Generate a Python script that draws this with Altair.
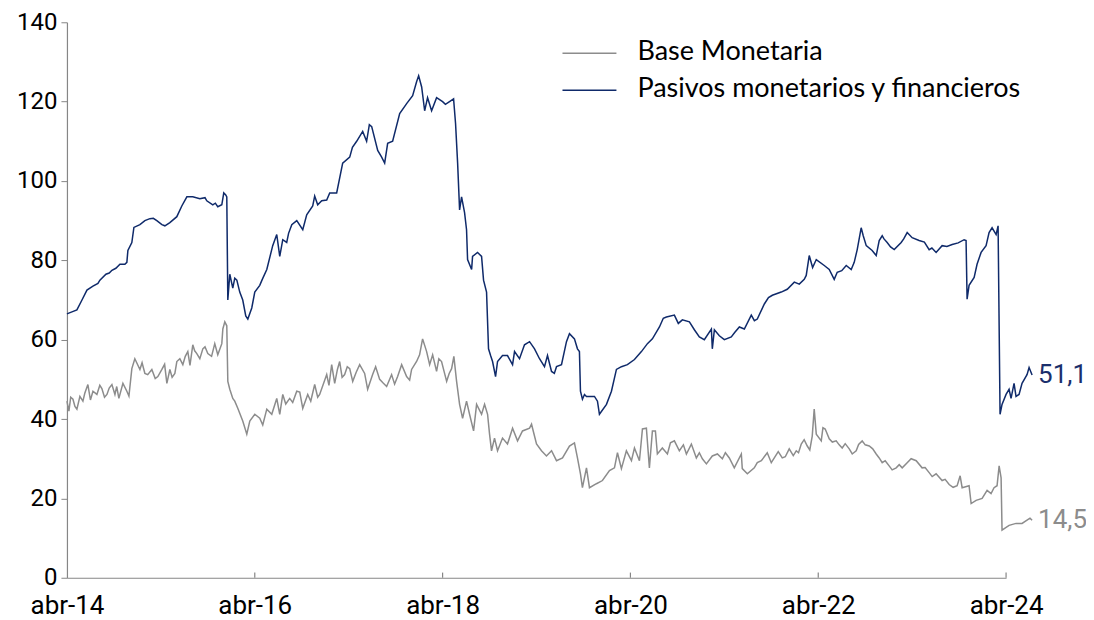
import altair as alt
import pandas as pd

# Tiempo en años decimales (abr-14 = 2014.25)
pm_t = [2014.250, 2014.303, 2014.356, 2014.410, 2014.463, 2014.527, 2014.601, 2014.665, 2014.729, 2014.771,
        2014.814, 2014.867, 2014.888, 2014.899, 2014.941, 2014.963, 2015.027, 2015.080, 2015.133, 2015.207,
        2015.261, 2015.293, 2015.346, 2015.420, 2015.473, 2015.527, 2015.590, 2015.665, 2015.739, 2015.803,
        2015.856, 2015.899, 2015.920, 2015.941, 2015.952, 2015.963, 2015.984, 2016.016, 2016.037, 2016.059,
        2016.090, 2016.122, 2016.154, 2016.176, 2016.218, 2016.250, 2016.303, 2016.378, 2016.441, 2016.484,
        2016.516, 2016.548, 2016.590, 2016.644, 2016.697, 2016.761, 2016.803, 2016.867, 2016.888, 2016.920,
        2016.963, 2017.016, 2017.048, 2017.122, 2017.186, 2017.261, 2017.335, 2017.399, 2017.441, 2017.495,
        2017.559, 2017.601, 2017.633, 2017.665, 2017.718, 2017.793, 2017.867, 2017.931, 2017.973, 2017.995,
        2018.027, 2018.059, 2018.090, 2018.133, 2018.186, 2018.250, 2018.324, 2018.367, 2018.388, 2018.410,
        2018.431, 2018.452, 2018.484, 2018.505, 2018.516, 2018.559, 2018.569, 2018.622, 2018.665, 2018.686,
        2018.718, 2018.739, 2018.761, 2018.782, 2018.814, 2018.835, 2018.888, 2018.941, 2018.995, 2019.016,
        2019.069, 2019.122, 2019.176, 2019.229, 2019.282, 2019.335, 2019.367, 2019.410, 2019.463, 2019.516,
        2019.569, 2019.601, 2019.654, 2019.686, 2019.707, 2019.718, 2019.739, 2019.761, 2019.782, 2019.867,
        2019.899, 2019.920, 2019.995, 2020.048, 2020.101, 2020.154, 2020.218, 2020.293, 2020.367, 2020.431,
        2020.484, 2020.559, 2020.633, 2020.718, 2020.803, 2020.878, 2020.931, 2020.984, 2021.037, 2021.112,
        2021.122, 2021.144, 2021.197, 2021.250, 2021.324, 2021.410, 2021.463, 2021.537, 2021.601, 2021.676,
        2021.761, 2021.856, 2021.920, 2021.995, 2022.048, 2022.101, 2022.122, 2022.154, 2022.229, 2022.314,
        2022.367, 2022.420, 2022.452, 2022.548, 2022.601, 2022.633, 2022.665, 2022.707, 2022.729, 2022.761,
        2022.824, 2022.867, 2022.899, 2022.931, 2022.984, 2023.059, 2023.133, 2023.197, 2023.250, 2023.324,
        2023.431, 2023.505, 2023.569, 2023.676, 2023.803, 2023.824, 2023.835, 2023.856, 2023.910, 2023.941,
        2023.984, 2024.037, 2024.069, 2024.101, 2024.144, 2024.165, 2024.186, 2024.207, 2024.250, 2024.282,
        2024.303, 2024.335, 2024.356, 2024.388, 2024.420, 2024.473, 2024.495, 2024.527,
        # detalle adicional
        2014.580, 2014.700, 2015.170, 2015.720, 2015.830, 2016.330, 2016.610, 2017.290, 2017.470, 2018.280,
        2019.440, 2020.600, 2020.760, 2021.360, 2021.570, 2021.720, 2022.190, 2022.500, 2022.950, 2023.020,
        2023.160, 2023.380, 2023.460, 2023.620, 2023.740]
pm_v = [66.5, 67, 67.5, 70, 72.5, 73.5, 75, 76.5, 77.5, 78,
        79, 79, 79.5, 82.5, 84.5, 88.3, 89, 90, 90.5, 90,
        89, 88.7, 89.5, 91, 93.7, 96, 96, 95.5, 95, 94,
        93.5, 94, 97, 96.5, 96, 70, 76.5, 73, 75.5, 75,
        72, 70, 66, 65.2, 68, 72, 73.7, 77.7, 83.7, 86.5,
        81, 85.2, 84.5, 89, 90, 87.7, 91.5, 93.7, 96.2, 94,
        95, 95.2, 97, 97, 104.5, 106, 110, 112.5, 110, 113.7,
        107.7, 106, 104.5, 109.5, 110, 117, 119.5, 121.5, 125, 126.5,
        123.7, 117.7, 121, 117.7, 121, 120, 120, 120.7, 114.5, 104.5,
        92.7, 96, 92, 87.7, 80.2, 77.7, 81, 82, 81, 75,
        72, 57.7, 56, 54.5, 50.7, 54.5, 56, 56, 53.7, 57,
        55.2, 58.7, 59.5, 57.7, 55.2, 53.2, 56, 52, 53.2, 53.7,
        59.5, 61.5, 60.2, 57.7, 57, 47, 45, 46.2, 45.7, 45.7,
        44.5, 41.2, 43.7, 47, 52.5, 53.2, 53.7, 55, 57, 59,
        60.2, 63.2, 65.7, 66.2, 65, 64.5, 62.5, 60.7, 60, 62.7,
        57.7, 62.5, 61, 60, 60.7, 63.2, 62.7, 66.2, 65.2, 69,
        71.2, 72, 72.7, 74.5, 74, 75.2, 76.2, 81.2, 80.2, 78.7,
        77.7, 75.2, 77, 78.7, 77.7, 79.5, 82.7, 88.2, 86.2, 83.7,
        82.5, 81.2, 85, 86.2, 84.5, 82.7, 84.5, 87, 85.7, 85,
        82.7, 82, 83.7, 84, 85.2, 85, 70.2, 73.7, 75.7, 79,
        82, 83.7, 87, 88.2, 86.5, 88.7, 41.2, 43.7, 46.2, 47.5,
        45.2, 49, 45.7, 46.2, 49, 51.2, 53, 51.1,
        74.2, 76.8, 90.6, 95.8, 94.4, 75.2, 86.8, 108.5, 114.2, 119.3,
        51.5, 65.4, 64.1, 61.8, 64.8, 70.6, 78.2, 77.4, 85.4, 83.4,
        85.4, 84.6, 83.1, 83.5, 84.4]

bm_t = [2014.250, 2014.271, 2014.314, 2014.356, 2014.388, 2014.420, 2014.473, 2014.527, 2014.569, 2014.622,
        2014.676, 2014.729, 2014.761, 2014.803, 2014.846, 2014.888, 2014.941, 2014.973, 2015.027, 2015.080,
        2015.154, 2015.218, 2015.261, 2015.314, 2015.346, 2015.399, 2015.452, 2015.484, 2015.537, 2015.590,
        2015.633, 2015.665, 2015.697, 2015.750, 2015.824, 2015.856, 2015.899, 2015.910, 2015.931, 2015.952,
        2015.963, 2015.984, 2016.016, 2016.037, 2016.069, 2016.122, 2016.165, 2016.197, 2016.250, 2016.303,
        2016.378, 2016.431, 2016.484, 2016.516, 2016.548, 2016.622, 2016.697, 2016.761, 2016.814, 2016.888,
        2016.941, 2017.016, 2017.069, 2017.101, 2017.154, 2017.207, 2017.261, 2017.293, 2017.367, 2017.420,
        2017.452, 2017.505, 2017.580, 2017.654, 2017.707, 2017.771, 2017.814, 2017.867, 2017.920, 2017.973,
        2018.005, 2018.037, 2018.080, 2018.112, 2018.144, 2018.186, 2018.239, 2018.293, 2018.346, 2018.399,
        2018.431, 2018.463, 2018.505, 2018.537, 2018.580, 2018.612, 2018.665, 2018.697, 2018.729, 2018.750,
        2018.771, 2018.803, 2018.835, 2018.888, 2018.941, 2018.995, 2019.048, 2019.101, 2019.176, 2019.197,
        2019.250, 2019.303, 2019.356, 2019.410, 2019.463, 2019.527, 2019.601, 2019.654, 2019.686, 2019.718,
        2019.739, 2019.782, 2019.814, 2019.888, 2019.952, 2020.027, 2020.080, 2020.112, 2020.154, 2020.207,
        2020.261, 2020.293, 2020.346, 2020.378, 2020.420, 2020.452, 2020.484, 2020.516, 2020.537, 2020.590,
        2020.644, 2020.718, 2020.771, 2020.846, 2020.899, 2020.952, 2021.016, 2021.059, 2021.122, 2021.176,
        2021.229, 2021.303, 2021.356, 2021.431, 2021.441, 2021.495, 2021.569, 2021.644, 2021.707, 2021.782,
        2021.867, 2021.941, 2022.016, 2022.069, 2022.133, 2022.186, 2022.207, 2022.229, 2022.282, 2022.324,
        2022.367, 2022.441, 2022.505, 2022.580, 2022.654, 2022.718, 2022.793, 2022.867, 2022.931, 2023.005,
        2023.080, 2023.144, 2023.239, 2023.293, 2023.356, 2023.431, 2023.505, 2023.569, 2023.644, 2023.729,
        2023.761, 2023.782, 2023.856, 2023.878, 2023.931, 2023.995, 2024.048, 2024.090, 2024.122, 2024.154,
        2024.176, 2024.197, 2024.207, 2024.282, 2024.356, 2024.420, 2024.473, 2024.505, 2024.527,
        # detalle adicional
        2014.290, 2014.335, 2014.440, 2014.500, 2014.600, 2014.650, 2014.700, 2014.780, 2014.910, 2015.050,
        2015.110, 2015.190, 2015.290, 2015.370, 2015.420, 2015.510, 2015.560, 2015.610, 2015.720, 2015.790,
        2016.335, 2016.580, 2016.654, 2016.729, 2016.846, 2016.920, 2017.040, 2017.130, 2017.180, 2017.235,
        2017.330, 2017.537, 2017.612, 2017.739, 2017.899, 2018.060, 2018.210, 2018.320, 2018.370,
        2020.676, 2020.814, 2020.984, 2021.261, 2021.601, 2021.750, 2021.824, 2021.899, 2021.984,
        2022.040, 2022.100, 2022.160, 2022.300, 2022.400, 2022.473, 2022.537, 2022.612, 2022.680, 2022.750,
        2022.830, 2022.899, 2022.963, 2023.037, 2023.112, 2023.197, 2023.388, 2023.463, 2023.601, 2023.686]
bm_v = [44.5, 42, 45, 42.5, 45.7, 44.5, 48.7, 47, 46.2, 47.7,
        46.2, 48.7, 46.2, 45.2, 49, 47, 52.7, 55.2, 52.5, 51.5,
        52.5, 50.7, 52.5, 49, 52.5, 51.5, 55.2, 53.7, 57, 58.7,
        56.5, 55.2, 57.7, 56.5, 59, 56.2, 59, 62.7, 64.5, 63.5,
        49.5, 47.5, 45.2, 44.5, 42.7, 39.5, 36.2, 39.5, 41.2, 40.2,
        42.5, 41.2, 45.2, 41.2, 46.2, 45.2, 47, 42.7, 46.2, 48.7,
        46.2, 51.2, 53.7, 49, 54.5, 51.2, 52.7, 49.5, 53.7, 51.5,
        47.5, 51.2, 50, 48.2, 51.2, 50.7, 53.7, 50.7, 52.5, 54.5,
        56.2, 60.2, 57, 53.7, 56.2, 52, 54.5, 49.5, 52.7, 49.5,
        43.7, 40.2, 44.5, 41.2, 37, 43.7, 41.2, 43.7, 41.2, 36.2,
        32, 35.2, 32, 35.2, 33.7, 37.7, 34.5, 37, 37.7, 38.7,
        33.7, 32, 30.7, 32, 29.5, 30.2, 33.2, 34, 30.2, 26.2,
        22.7, 27.7, 22.7, 23.7, 24.5, 27, 27.7, 31.5, 27.5, 32,
        29.5, 32.7, 29.5, 37.5, 37.7, 27.7, 37, 37, 31.2, 32.7,
        31.2, 34.5, 32, 31.2, 33.7, 30.2, 30, 28.7, 30.7, 31.2,
        30, 30.2, 27.7, 31.2, 27.5, 26.2, 27.7, 29.5, 31.5, 30.2,
        30.2, 32.5, 32, 33.7, 33.2, 35.7, 42.5, 36.2, 34.5, 37.5,
        35, 34.5, 32.7, 32.5, 32, 34.5, 33.2, 31.2, 29, 28.2,
        27.7, 27.7, 30, 29.5, 27.7, 26.5, 26.2, 24.5, 23.5, 23.2,
        25.7, 22.7, 23.2, 18.7, 19.5, 20, 22, 21.2, 22.7, 23.2,
        28.2, 25.2, 12, 13.2, 13.7, 13.7, 14.5, 15, 14.5,
        45.5, 43.2, 46.5, 44.8, 48.5, 45.5, 47.8, 48.2, 45.8, 54.2,
        51.2, 50.2, 53.8, 50.5, 54.5, 55.8, 53.5, 57.2, 58.2, 55.8,
        38.5, 43.8, 44.2, 46.8, 44.5, 45.5, 48.5, 52.5, 50.5, 53.2,
        51.8, 53.2, 49.2, 48.8, 49.8, 58.5, 55.2, 51.5, 55.8,
        34, 33.5, 31.5, 31.5, 29, 29, 31.8, 30.5, 30.8,
        31.5, 34.8, 32.2, 37.8, 34.2, 33.5, 33.8, 31.2, 33.6, 33.5,
        32.5, 30.2, 29.5, 27.2, 28.5, 29, 27.8, 25.5, 24.8, 22.8]

series_names = ["Base Monetaria", "Pasivos monetarios y financieros"]
series_colors = ["#8c8c8c", "#0f2a6a"]
label_colors = ["#8c8c8c", "#1b2f6c"]
tick_years = [2014.25, 2016.25, 2018.25, 2020.25, 2022.25, 2024.25]
y_ticks = [0, 20, 40, 60, 80, 100, 120, 140]

bm_df = pd.DataFrame({"t": bm_t, "v": bm_v, "serie": series_names[0]}).sort_values("t")
pm_df = pd.DataFrame({"t": pm_t, "v": pm_v, "serie": series_names[1]}).sort_values("t")
df = pd.concat([bm_df, pm_df], ignore_index=True)

xscale = alt.Scale(domain=[2014.25, 2024.25], nice=False, zero=False)
yscale = alt.Scale(domain=[0, 140], nice=False)
cscale = alt.Scale(domain=series_names, range=series_colors)

axis_color = "#868686"

lines = alt.Chart(df).mark_line(strokeWidth=1.5, clip=False).encode(
    x=alt.X("t:Q", scale=xscale, title=None,
            axis=alt.Axis(values=tick_years, ticks=False, grid=False,
                          labelExpr="'abr-' + substring(toString(floor(datum.value)), 2)",
                          labelFont="Roboto", labelFontSize=26, labelColor="#000000",
                          labelPadding=15, domainColor=axis_color, domainWidth=1.2,
                          labelFlush=False, labelOverlap=False)),
    y=alt.Y("v:Q", scale=yscale, title=None,
            axis=alt.Axis(values=y_ticks, grid=False, tickSize=6, tickColor=axis_color,
                          domainColor=axis_color, domainWidth=1.2,
                          labelFont="Roboto", labelFontSize=24, labelColor="#000000",
                          labelPadding=4)),
    color=alt.Color("serie:N", scale=cscale, legend=None),
)

# marcas de graduación del eje x hacia arriba
tick_df = pd.DataFrame({"t": tick_years[1:], "y0": 0.0, "y1": 1.3})
xticks = alt.Chart(tick_df).mark_rule(color=axis_color, strokeWidth=1.2).encode(
    x=alt.X("t:Q", scale=xscale), y=alt.Y("y0:Q", scale=yscale), y2="y1:Q")

# etiquetas finales
last_bm = bm_df.iloc[-1]
last_pm = pm_df.iloc[-1]
end_df = pd.DataFrame({
    "t": [last_bm["t"], last_pm["t"]],
    "v": [last_bm["v"], last_pm["v"]],
    "serie": series_names,
    "txt": [f"{last_bm['v']:.1f}".replace(".", ","), f"{last_pm['v']:.1f}".replace(".", ",")],
})
end_labels = alt.Chart(end_df).mark_text(align="left", baseline="middle", dx=6, font="Roboto",
                                          fontSize=26).encode(
    x=alt.X("t:Q", scale=xscale), y=alt.Y("v:Q", scale=yscale), text="txt:N",
    color=alt.Color("serie:N", scale=alt.Scale(domain=series_names, range=label_colors), legend=None))

# leyenda manual
legend_layers = []
for i, (name, col) in enumerate(zip(series_names, series_colors)):
    ldf = pd.DataFrame({"label": [name]})
    ypix = 31 + 37 * i
    legend_layers.append(alt.Chart(ldf).mark_rule(color=col, strokeWidth=1.5).encode(
        x=alt.value(496), x2=alt.value(550), y=alt.value(ypix)))
    legend_layers.append(alt.Chart(ldf).mark_text(align="left", baseline="middle", font="Lato",
                                                  fontSize=27, color="#000000").encode(
        x=alt.value(571), y=alt.value(ypix - 1), text="label:N"))

chart = alt.layer(lines, xticks, end_labels, *legend_layers).properties(
    width=940, height=556,
    padding={"left": 59, "top": 14, "right": 80, "bottom": 42},
    autosize=alt.AutoSizeParams(type="none"),
).configure_view(strokeWidth=0).resolve_scale(color="independent")

chart.save("out.html", embed_options={"renderer": "svg", "actions": False})
